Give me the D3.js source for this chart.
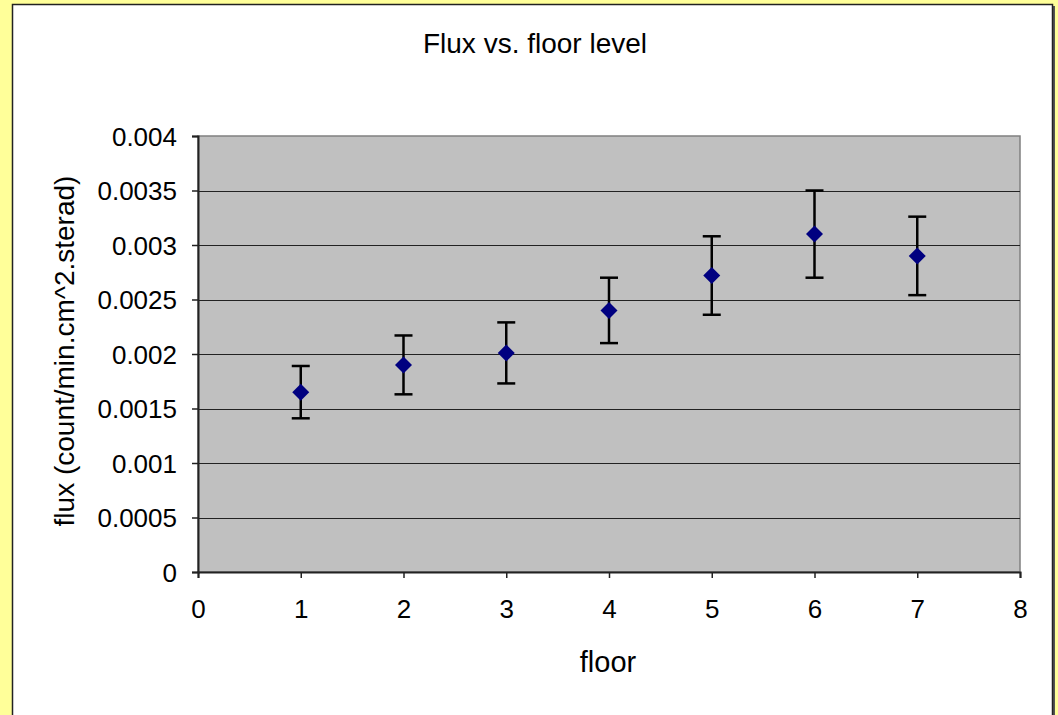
<!DOCTYPE html>
<meta charset="utf-8">
<style>
  body { margin: 0; background: #FFFF99; }
  text { font-family: "Liberation Sans", Arial, sans-serif; fill: #000; }
</style>
<body id="chart"></body>
<script src="https://cdn.jsdelivr.net/npm/d3@7"></script>
<script>
// data
var floors = [1, 2, 3, 4, 5, 6, 7];
var flux = [0.00165, 0.0019, 0.00201, 0.00240, 0.00272, 0.00310, 0.00290];
var fluxErr = [0.00024, 0.00027, 0.00028, 0.00030, 0.00036, 0.00040, 0.00036];
var xTicks = [0, 1, 2, 3, 4, 5, 6, 7, 8];
var yTicks = [0, 0.0005, 0.001, 0.0015, 0.002, 0.0025, 0.003, 0.0035, 0.004];

var width = 1058, height = 715;
var plot = {left: 198, top: 136, right: 1020, bottom: 572};

var svg = d3.select("#chart").append("svg")
    .attr("width", width)
    .attr("height", height);

// chart frame (white, dark border, shadow on right)
svg.append("rect")
    .attr("x", 15).attr("y", 6)
    .attr("width", 1040).attr("height", 715)
    .attr("fill", "#555");
svg.append("rect")
    .attr("x", 12.5).attr("y", 4.5)
    .attr("width", 1040).attr("height", 715)
    .attr("fill", "#fff")
    .attr("stroke", "#222")
    .attr("stroke-width", 1.5);

var x = d3.scaleLinear().domain([0, 8]).range([plot.left, plot.right]);
var y = d3.scaleLinear().domain([0, 0.004]).range([plot.bottom, plot.top]);

// plot area
svg.append("rect")
    .attr("x", plot.left).attr("y", plot.top)
    .attr("width", plot.right - plot.left)
    .attr("height", plot.bottom - plot.top)
    .attr("fill", "#C0C0C0")
    .attr("stroke", "#808080")
    .attr("stroke-width", 1.5);

// gridlines
svg.append("g")
    .selectAll("line")
    .data(yTicks.slice(1, -1))
    .enter().append("line")
    .attr("x1", plot.left).attr("x2", plot.right)
    .attr("y1", function (d) { return Math.round(y(d)) + 0.5; })
    .attr("y2", function (d) { return Math.round(y(d)) + 0.5; })
    .attr("stroke", "#222")
    .attr("stroke-width", 1);

// axes
var yAxis = d3.axisLeft(y).tickValues(yTicks).tickSize(6).tickPadding(15)
    .tickFormat(function (d) { return d === 0 ? "0" : String(+d.toFixed(4)); });
var xAxis = d3.axisBottom(x).tickValues(xTicks).tickSize(6).tickPadding(22)
    .tickFormat(d3.format("d"));

var gy = svg.append("g")
    .attr("transform", "translate(" + plot.left + ",0)")
    .call(yAxis);
var gx = svg.append("g")
    .attr("transform", "translate(0," + plot.bottom + ")")
    .call(xAxis);

[gx, gy].forEach(function (g) {
    g.select(".domain").attr("stroke", "#222").attr("stroke-width", 2);
    g.selectAll(".tick line").attr("stroke", "#222").attr("stroke-width", 1.5);
    g.selectAll(".tick text")
        .style("font-family", "'Liberation Sans', Arial, sans-serif")
        .style("font-size", "26px")
        .attr("fill", "#000");
});
gy.selectAll(".tick text").attr("dy", "0.36em");

// error bars
var errs = svg.append("g")
    .selectAll("g")
    .data(floors)
    .enter().append("g")
    .attr("stroke", "#000")
    .attr("stroke-width", 2.5);

errs.append("line")
    .attr("x1", function (d) { return x(d); })
    .attr("x2", function (d) { return x(d); })
    .attr("y1", function (d, i) { return y(flux[i] + fluxErr[i]); })
    .attr("y2", function (d, i) { return y(flux[i] - fluxErr[i]); });
errs.append("line")
    .attr("x1", function (d) { return x(d) - 9; })
    .attr("x2", function (d) { return x(d) + 9; })
    .attr("y1", function (d, i) { return y(flux[i] + fluxErr[i]); })
    .attr("y2", function (d, i) { return y(flux[i] + fluxErr[i]); });
errs.append("line")
    .attr("x1", function (d) { return x(d) - 9; })
    .attr("x2", function (d) { return x(d) + 9; })
    .attr("y1", function (d, i) { return y(flux[i] - fluxErr[i]); })
    .attr("y2", function (d, i) { return y(flux[i] - fluxErr[i]); });

// diamond markers
svg.append("g")
    .selectAll("path")
    .data(floors)
    .enter().append("path")
    .attr("d", function (d, i) {
        var cx = x(d), cy = y(flux[i]), r = 8.5;
        return "M" + cx + "," + (cy - r) + "L" + (cx + r) + "," + cy +
            "L" + cx + "," + (cy + r) + "L" + (cx - r) + "," + cy + "Z";
    })
    .attr("fill", "#000080");

// titles
svg.append("text")
    .attr("x", 535).attr("y", 53)
    .attr("text-anchor", "middle")
    .style("font-size", "28px")
    .text("Flux vs. floor level");

svg.append("text")
    .attr("x", 608).attr("y", 672)
    .attr("text-anchor", "middle")
    .style("font-size", "29px")
    .text("floor");

svg.append("text")
    .attr("transform", "translate(74,351) rotate(-90)")
    .attr("text-anchor", "middle")
    .style("font-size", "28px")
    .text("flux (count/min.cm^2.sterad)");
</script>
